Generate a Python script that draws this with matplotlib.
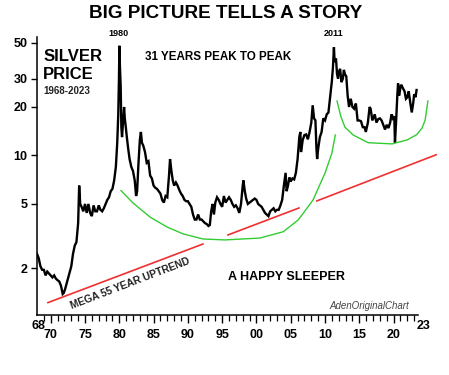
import matplotlib
matplotlib.use("Agg")
import matplotlib.pyplot as plt
from matplotlib.ticker import FixedLocator, NullFormatter, NullLocator

plt.rcParams['font.family'] = ['Liberation Sans', 'DejaVu Sans']

# --- Silver price (USD/oz) ---
years = [1968.0, 1968.25, 1968.5, 1968.75, 1969.0, 1969.25, 1969.5, 1969.75,
         1970.0, 1970.25, 1970.5, 1970.75, 1971.0, 1971.25, 1971.5, 1971.75,
         1971.9, 1972.1, 1972.4, 1972.7, 1973.0, 1973.25, 1973.5, 1973.75,
         1974.0, 1974.15, 1974.3, 1974.5, 1974.75, 1975.0, 1975.25, 1975.5,
         1975.75, 1976.0, 1976.25, 1976.5, 1976.75, 1977.0, 1977.25, 1977.5,
         1977.75, 1978.0, 1978.25, 1978.5, 1978.75, 1979.0, 1979.25, 1979.5,
         1979.7, 1979.85, 1979.95, 1980.02, 1980.1, 1980.2, 1980.3, 1980.4,
         1980.55, 1980.7, 1980.8, 1980.95, 1981.1, 1981.3, 1981.5, 1981.75,
         1982.0, 1982.25, 1982.45, 1982.6, 1982.8, 1983.0, 1983.15, 1983.3,
         1983.5, 1983.75, 1984.0, 1984.25, 1984.5, 1984.75, 1985.0, 1985.25,
         1985.5, 1985.75, 1986.0, 1986.25, 1986.5, 1986.75, 1987.0, 1987.25,
         1987.4, 1987.6, 1987.8, 1988.0, 1988.25, 1988.5, 1988.75, 1989.0,
         1989.25, 1989.5, 1989.75, 1990.0, 1990.25, 1990.5, 1990.75, 1991.0,
         1991.25, 1991.5, 1991.75, 1992.0, 1992.25, 1992.5, 1992.75, 1993.0,
         1993.2, 1993.4, 1993.6, 1993.8, 1994.0, 1994.25, 1994.5, 1994.75,
         1995.0, 1995.25, 1995.5, 1995.75, 1996.0, 1996.25, 1996.5, 1996.75,
         1997.0, 1997.25, 1997.5, 1997.75, 1998.0, 1998.1, 1998.3, 1998.5,
         1998.75, 1999.0, 1999.25, 1999.5, 1999.75, 2000.0, 2000.25, 2000.5,
         2000.75, 2001.0, 2001.25, 2001.5, 2001.75, 2002.0, 2002.25, 2002.5,
         2002.75, 2003.0, 2003.25, 2003.5, 2003.75, 2004.0, 2004.25, 2004.4,
         2004.6, 2004.8, 2005.0, 2005.25, 2005.5, 2005.75, 2006.0, 2006.25,
         2006.4, 2006.5, 2006.75, 2007.0, 2007.25, 2007.5, 2007.75, 2008.0,
         2008.2, 2008.4, 2008.6, 2008.75, 2008.85, 2009.0, 2009.25, 2009.5,
         2009.75, 2010.0, 2010.25, 2010.5, 2010.75, 2011.0, 2011.15, 2011.3,
         2011.4, 2011.6, 2011.75, 2011.9, 2012.0, 2012.2, 2012.4, 2012.6,
         2012.75, 2012.9, 2013.1, 2013.3, 2013.5, 2013.75, 2014.0, 2014.25,
         2014.5, 2014.75, 2015.0, 2015.25, 2015.5, 2015.75, 2015.95, 2016.25,
         2016.5, 2016.65, 2016.9, 2017.25, 2017.5, 2017.75, 2018.0, 2018.25,
         2018.5, 2018.75, 2019.0, 2019.25, 2019.5, 2019.7, 2019.9, 2020.1,
         2020.2, 2020.4, 2020.55, 2020.65, 2020.8, 2021.0, 2021.1, 2021.4,
         2021.6, 2021.8, 2022.0, 2022.2, 2022.45, 2022.65, 2022.85, 2023.0,
         2023.2, 2023.35]
prices = [2.45, 2.30, 2.05, 1.95, 1.95, 1.80, 1.90, 1.85,
          1.80, 1.75, 1.80, 1.72, 1.68, 1.65, 1.55, 1.38,
          1.40, 1.48, 1.65, 1.85, 2.05, 2.45, 2.75, 2.90,
          3.8, 6.5, 5.0, 4.8, 4.5, 5.0, 4.4, 5.0,
          4.4, 4.2, 4.9, 4.5, 4.5, 4.9, 4.6, 4.5,
          4.7, 5.0, 5.3, 5.5, 6.0, 6.2, 7.0, 8.5,
          12.0, 18.0, 30.0, 48.0, 35.0, 27.0, 15.0, 13.0,
          16.0, 20.0, 17.0, 15.0, 13.0, 11.0, 9.5, 8.5,
          8.0, 7.0, 5.6, 6.0, 9.0, 12.5, 14.0, 12.0,
          11.5, 10.5, 9.0, 9.2, 7.5, 7.2, 6.5, 6.3,
          6.2, 6.0, 5.8, 5.3, 5.1, 5.6, 5.5, 7.5,
          9.5, 8.0, 7.0, 6.5, 6.8, 6.5, 6.1, 5.8,
          5.6, 5.3, 5.2, 5.2, 5.0, 4.8, 4.3, 4.0,
          4.0, 4.3, 4.0, 4.0, 3.9, 3.8, 3.75, 3.65,
          3.7, 4.5, 5.0, 4.3, 5.1, 5.5, 5.3, 5.0,
          4.8, 5.6, 5.1, 5.3, 5.5, 5.3, 5.0, 4.8,
          4.9, 4.7, 4.4, 5.0, 6.5, 7.0, 6.0, 5.4,
          5.0, 5.1, 5.2, 5.3, 5.4, 5.3, 5.0, 4.9,
          4.8, 4.6, 4.4, 4.3, 4.2, 4.5, 4.6, 4.7,
          4.5, 4.6, 4.6, 4.9, 5.3, 6.5, 7.8, 6.0,
          6.5, 7.3, 6.9, 7.2, 7.1, 7.8, 9.5, 13.0,
          14.0, 10.5, 12.5, 13.4, 13.5, 12.6, 14.0, 16.0,
          20.5, 17.0, 16.5, 11.0, 9.5, 11.0, 13.0, 14.0,
          17.0, 16.5, 18.0, 18.5, 23.0, 29.0, 35.0, 47.0,
          38.0, 40.0, 32.0, 30.0, 33.0, 34.5, 28.5, 30.0,
          34.0, 32.0, 31.0, 23.5, 20.0, 22.5, 20.0, 19.5,
          21.0, 16.5, 16.5, 16.3, 15.0, 15.0, 14.0, 16.0,
          20.0, 19.5, 16.5, 18.0, 16.0, 16.8, 17.0, 16.5,
          15.5, 14.5, 15.5, 14.8, 16.0, 18.0, 17.0, 17.5,
          12.0, 17.5, 24.0, 28.0, 23.5, 26.5, 27.5, 26.0,
          25.0, 22.5, 23.0, 25.0, 21.0, 18.5, 21.0, 24.0,
          23.0, 25.5]

# --- Annotation lines (year, price) ---
trend_seg_years = [[1969.6, 1992.2], [1995.85, 2006.2], [2008.8, 2026.2]]
trend_seg_prices = [[1.22, 2.82], [3.21, 4.72], [5.22, 10.1]]

base1_years = [1980.25, 1982.0, 1984.5, 1987.0, 1989.3, 1992.2, 1995.4,
               2000.5, 2003.9, 2006.1, 2008.25, 2010.0, 2011.0, 2011.5]
base1_prices = [6.05, 5.07, 4.14, 3.59, 3.26, 3.03, 2.99,
                3.07, 3.36, 3.98, 5.29, 7.78, 10.35, 13.4]

base2_years = [2011.75, 2012.3, 2012.9, 2014.1, 2016.3, 2019.8, 2022.0,
               2023.4, 2024.15, 2024.6, 2025.0]
base2_prices = [21.8, 17.5, 15.0, 13.4, 12.0, 11.8, 12.5,
                13.5, 14.8, 16.6, 21.8]

ytick_vals = [2, 5, 10, 20, 30, 50]
ytick_labels = ['2', '5', '10', '20', '30', '50']
xmajor_years = [1970, 1975, 1980, 1985, 1990, 1995, 2000, 2005, 2010, 2015, 2020]
xmajor_labels = ['70', '75', '80', '85', '90', '95', '00', '05', '10', '15', '20']

W, H = 449, 375
fig = plt.figure(figsize=(W / 100, H / 100), dpi=100)
ax = fig.add_axes([37 / W, 1 - 315 / H, 380.6 / W, 278 / H])

ax.set_yscale('log')
ax.set_xlim(1968, 2023.5)
ax.set_ylim(1.022, 54.4)

ax.plot(years, prices, color='black', lw=1.7, solid_joinstyle='miter')

red = '#f03030'
for xs, ys in zip(trend_seg_years, trend_seg_prices):
    ax.plot(xs, ys, color=red, lw=1.2, clip_on=False)
green = '#33cc33'
ax.plot(base1_years, base1_prices, color=green, lw=1.0, clip_on=False)
ax.plot(base2_years, base2_prices, color=green, lw=1.0, clip_on=False)

for s in ['top', 'right']:
    ax.spines[s].set_visible(False)
for s in ['left', 'bottom']:
    ax.spines[s].set_linewidth(1.1)

ax.yaxis.set_major_locator(FixedLocator(ytick_vals))
ax.yaxis.set_minor_locator(NullLocator())
ax.set_yticklabels(ytick_labels)
ax.yaxis.set_minor_formatter(NullFormatter())
ax.tick_params(axis='y', which='major', length=4, width=1.0, pad=3,
               labelsize=9)
for lbl in ax.get_yticklabels():
    lbl.set_fontweight('bold')

ax.set_xticks(xmajor_years)
ax.set_xticklabels(xmajor_labels)
ax.set_xticks(list(range(1969, 2024)), minor=True)
ax.tick_params(axis='x', which='major', length=6, width=1.0, pad=4,
               labelsize=9)
ax.tick_params(axis='x', which='minor', length=4, width=0.9)
for lbl in ax.get_xticklabels():
    lbl.set_fontweight('bold')

# end labels
ax.text(1968.2, -0.04, '68', transform=ax.get_xaxis_transform(),
        ha='center', va='center', fontsize=9, fontweight='bold')
ax.text(2023.4, -0.04, '23', transform=ax.get_xaxis_transform(),
        ha='left', va='center', fontsize=9, fontweight='bold', clip_on=False)

fig.text(226 / W, 1 - 13 / H, 'BIG PICTURE TELLS A STORY', ha='center',
         va='center', fontsize=13.6, fontweight='bold')

ax.text(1968.9, 40.9, 'SILVER', ha='left', va='center', fontsize=12,
        fontweight='bold')
ax.text(1968.9, 31.7, 'PRICE', ha='left', va='center', fontsize=12,
        fontweight='bold')
ax.text(1968.9, 25.2, '1968-2023', ha='left', va='center', fontsize=7,
        fontweight='bold', color='#222222')
ax.text(1979.9, 53.5, '1980', ha='center', va='bottom', fontsize=6.5,
        fontweight='bold', clip_on=False)
ax.text(2011.3, 53.5, '2011', ha='center', va='bottom', fontsize=6.5,
        fontweight='bold', clip_on=False)
ax.text(1994.4, 40.9, '31 YEARS PEAK TO PEAK', ha='center', va='center',
        fontsize=8.4, fontweight='bold')
ax.text(2004.4, 1.75, 'A HAPPY SLEEPER', ha='center', va='center',
        fontsize=9, fontweight='bold')
ax.text(1981.6, 1.60, 'MEGA 55 YEAR UPTREND', ha='center', va='center',
        rotation=21, rotation_mode='anchor', fontsize=7.4, fontweight='bold',
        color='#222222')
ax.text(2016.5, 1.17, 'AdenOriginalChart', ha='center', va='center',
        fontsize=7, style='italic', color='#444444')

fig.savefig('out.png', dpi=100)
